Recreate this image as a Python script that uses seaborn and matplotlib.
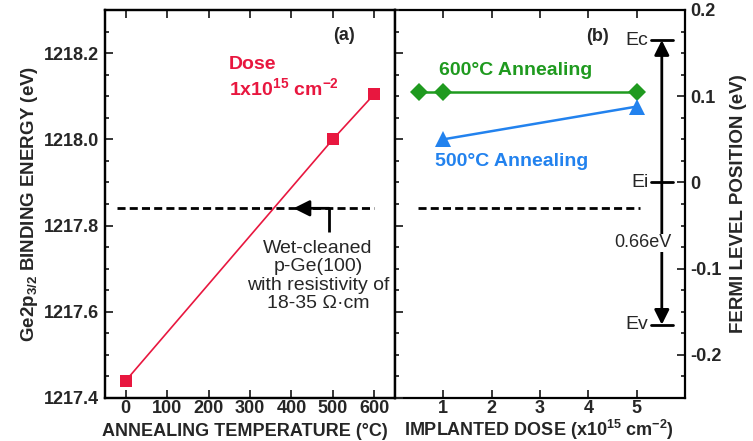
import numpy as np
import pandas as pd
import matplotlib
matplotlib.use("Agg")
import matplotlib.pyplot as plt
import seaborn as sns
from matplotlib.ticker import MultipleLocator, FixedLocator, FixedFormatter

# ---------------- data ----------------
anneal_temp = [0, 500, 600]
binding_energy = [1217.44, 1218.00, 1218.105]

dose_600 = [0.5, 1, 5]
fermi_600 = [0.105, 0.105, 0.105]
dose_500 = [1, 5]
fermi_500 = [0.050, 0.088]

wet_cleaned_be = 1217.84
wet_cleaned_fermi = -0.03
band_Ec, band_Ei, band_Ev = 0.165, 0.0, -0.165

temp_ticks = [0, 100, 200, 300, 400, 500, 600]
dose_ticks = [1, 2, 3, 4, 5]
be_ticks = [1217.4, 1217.6, 1217.8, 1218.0, 1218.2]
be_tick_labels = ["1217.4", "1217.6", "1217.8", "1218.0", "1218.2"]
fermi_ticks = [-0.2, -0.1, 0.0, 0.1, 0.2]
fermi_tick_labels = ["-0.2", "-0.1", "0", "0.1", "0.2"]

RED = "#e8173f"
GREEN = "#1f9a1f"
BLUE = "#2282ee"

# ---------------- style ----------------
sns.set_style("ticks")
plt.rcParams["font.family"] = ["Liberation Sans", "DejaVu Sans"]
plt.rcParams["mathtext.fontset"] = "custom"
plt.rcParams["mathtext.rm"] = "Liberation Sans"
plt.rcParams["mathtext.bf"] = "Liberation Sans:bold"
plt.rcParams["mathtext.it"] = "Liberation Sans:italic"
plt.rcParams["mathtext.default"] = "bf"
plt.rcParams["axes.unicode_minus"] = False

W, H = 753, 441
fig = plt.figure(figsize=(W / 100, H / 100), dpi=100)
bottom = 1 - 398 / H
height = 388 / H
ax1 = fig.add_axes([105 / W, bottom, 290 / W, height])
ax2 = fig.add_axes([395 / W, bottom, 290 / W, height])

TICKFS = 13
LABFS = 13

# ---------------- panel (a) ----------------
df_a = pd.DataFrame({"T": anneal_temp, "BE": binding_energy})
sns.lineplot(data=df_a, x="T", y="BE", ax=ax1, color=RED, lw=1.2,
             marker="s", markersize=9, markeredgewidth=0, zorder=3)
ax1.plot([-20, 600], [wet_cleaned_be, wet_cleaned_be], color="k", lw=2,
         ls=(0, (2.9, 1.5)), zorder=2)

ax1.set_xlim(-50, 650)
ax1.set_ylim(1217.4, 1218.3)
ax1.xaxis.set_major_locator(FixedLocator(temp_ticks))
ax1.yaxis.set_major_locator(FixedLocator(be_ticks))
ax1.yaxis.set_major_formatter(FixedFormatter(be_tick_labels))
ax1.yaxis.set_minor_locator(MultipleLocator(0.05))
ax1.tick_params(axis="x", which="major", direction="in", bottom=True, top=True,
                length=6, width=1.3, labelsize=TICKFS, pad=1.5)
ax1.tick_params(axis="y", which="major", direction="in", left=True, right=False,
                length=6, width=1.3, labelsize=TICKFS, pad=4)
ax1.tick_params(axis="y", which="minor", direction="in", left=True, right=False,
                length=3, width=1.3)
for lab in ax1.get_xticklabels() + ax1.get_yticklabels():
    lab.set_fontweight("bold")
ax1.set_xlabel("")
ax1.set_ylabel(r"Ge2p$_{\mathbf{3/2}}$ BINDING ENERGY (eV)", fontsize=13.5,
               fontweight="bold", labelpad=3)

ax1.text(527, 1218.242, "(a)", fontsize=13, fontweight="bold", ha="center", va="center")
ax1.text(249, 1218.173, "Dose", color=RED, fontsize=14, fontweight="bold",
         ha="left", va="center")
ax1.text(249, 1218.119, r"1x10$^{\mathbf{15}}$ cm$^{\mathbf{-2}}$", color=RED,
         fontsize=14, fontweight="bold", ha="left", va="center")

# elbow arrow pointing to dashed line
ax1.plot([490, 490], [1217.785, wet_cleaned_be], color="k", lw=2, solid_capstyle="butt")
ax1.annotate("", xy=(405, wet_cleaned_be), xytext=(491, wet_cleaned_be),
             arrowprops=dict(arrowstyle="-|>", color="k", lw=2, mutation_scale=24,
                             shrinkA=0, shrinkB=0))
ax1.text(464, 1217.683, "Wet-cleaned\np-Ge(100)\nwith resistivity of\n18-35 Ω·cm",
         fontsize=14, ha="center", va="center", linespacing=1.12)

# ---------------- panel (b) ----------------
df_600 = pd.DataFrame({"dose": dose_600, "E": fermi_600})
df_500 = pd.DataFrame({"dose": dose_500, "E": fermi_500})
sns.lineplot(data=df_600, x="dose", y="E", ax=ax2, color=GREEN, lw=1.8,
             marker="D", markersize=9, markeredgewidth=0, zorder=3)
sns.lineplot(data=df_500, x="dose", y="E", ax=ax2, color=BLUE, lw=1.8,
             marker="^", markersize=11, markeredgewidth=0, zorder=3)
ax2.plot([0.48, 5.07], [wet_cleaned_fermi, wet_cleaned_fermi], color="k", lw=2,
         ls=(0, (2.9, 1.5)), zorder=2)

ax2.set_xlim(0, 6)
ax2.set_ylim(-0.25, 0.2)
ax2.xaxis.set_major_locator(FixedLocator(dose_ticks))
ax2.yaxis.set_major_locator(FixedLocator(fermi_ticks))
ax2.yaxis.set_major_formatter(FixedFormatter(fermi_tick_labels))
ax2.yaxis.set_minor_locator(MultipleLocator(0.025))
ax2.yaxis.tick_right()
ax2.yaxis.set_label_position("right")
ax2.tick_params(axis="x", which="major", direction="in", bottom=True, top=True,
                length=6, width=1.3, labelsize=TICKFS, pad=1.5)
ax2.tick_params(axis="y", which="major", direction="in", left=False, right=True,
                labelleft=False, labelright=True, length=6, width=1.3,
                labelsize=TICKFS, pad=4)
ax2.tick_params(axis="y", which="minor", direction="in", left=False, right=True,
                length=3, width=1.3)
for lab in ax2.get_xticklabels() + ax2.get_yticklabels():
    lab.set_fontweight("bold")
ax2.set_xlabel("")
ax2.set_ylabel("FERMI LEVEL POSITION (eV)", fontsize=13.5, fontweight="bold",
               labelpad=6)

# x-axis titles placed at fixed baseline
fig.text(245 / W, 1 - 435.5 / H, "ANNEALING TEMPERATURE (°C)", fontsize=LABFS,
         fontweight="bold", ha="center", va="baseline")
fig.text(539 / W, 1 - 435.5 / H,
         r"IMPLANTED DOSE (x10$^{\mathbf{15}}$ cm$^{\mathbf{-2}}$)", fontsize=LABFS,
         fontweight="bold", ha="center", va="baseline")

ax2.text(4.18, 0.169, "(b)", fontsize=13, fontweight="bold", ha="center", va="center")
ax2.text(2.5, 0.13, "600°C Annealing", color=GREEN, fontsize=14, fontweight="bold",
         ha="center", va="center")
ax2.text(2.42, 0.024, "500°C Annealing", color=BLUE, fontsize=14, fontweight="bold",
         ha="center", va="center")

# band diagram
for lvl, name in [(band_Ec, "Ec"), (band_Ei, "Ei"), (band_Ev, "Ev")]:
    ax2.plot([5.29, 5.75], [lvl, lvl], color="k", lw=2)
    ax2.text(5.24, lvl, name, fontsize=14, ha="right", va="center")
ax2.annotate("", xy=(5.52, band_Ec), xytext=(5.52, band_Ev),
             arrowprops=dict(arrowstyle="<|-|>", color="k", lw=2, mutation_scale=22,
                             shrinkA=0, shrinkB=0))
ax2.text(5.13, -0.07, "0.66eV", fontsize=13, ha="center", va="center", zorder=5,
         bbox=dict(facecolor="white", edgecolor="none", pad=0.5))

# ticks of the shared middle spine (left-panel scale, pointing into panel b)
ax1r = ax1.twinx()
ax1r.set_ylim(ax1.get_ylim())
ax1r.yaxis.set_major_locator(FixedLocator(be_ticks))
ax1r.yaxis.set_minor_locator(MultipleLocator(0.05))
ax1r.tick_params(axis="y", which="major", direction="out", right=True, labelright=False,
                 length=6, width=1.3)
ax1r.tick_params(axis="y", which="minor", direction="out", right=True, length=3, width=1.3)

for ax in (ax1, ax2, ax1r):
    for sp in ax.spines.values():
        sp.set_linewidth(1.6)
        sp.set_color("k")

fig.savefig("out.png", dpi=100)
